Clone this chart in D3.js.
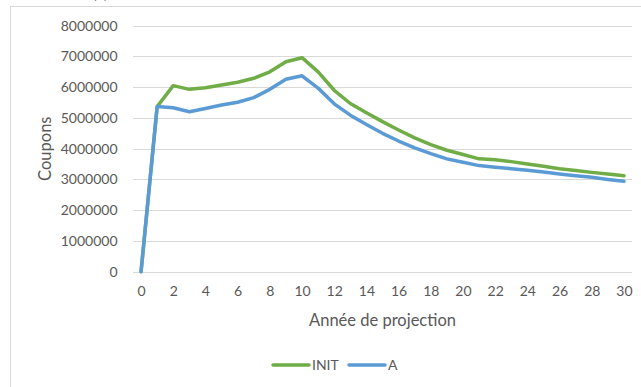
<!DOCTYPE html>
<html>
<head>
<meta charset="utf-8">
<script src="https://cdn.jsdelivr.net/npm/d3@7"></script>
<style>
  html, body { margin: 0; padding: 0; background: #fff; }
  svg { display: block; font-family: "Lato", "Open Sans", sans-serif; }
</style>
</head>
<body>
<svg id="chart" width="641" height="387"></svg>
<script>
const categories = [0,1,2,3,4,5,6,7,8,9,10,11,12,13,14,15,16,17,18,19,20,21,22,23,24,25,26,27,28,29,30];
const tickLabels = [0,2,4,6,8,10,12,14,16,18,20,22,24,26,28,30];
const yTicks = [0,1000000,2000000,3000000,4000000,5000000,6000000,7000000,8000000];
const seriesNames = ["INIT", "A"];
const initValues = [0, 5370000, 6050000, 5930000, 5980000, 6070000, 6160000, 6290000, 6500000, 6830000, 6960000,
  6500000, 5900000, 5470000, 5170000, 4880000, 4610000, 4350000, 4130000, 3950000, 3810000,
  3670000, 3640000, 3580000, 3500000, 3430000, 3350000, 3290000, 3230000, 3180000, 3120000];
const aValues = [0, 5370000, 5330000, 5200000, 5310000, 5420000, 5510000, 5660000, 5930000, 6260000, 6370000,
  5970000, 5460000, 5090000, 4790000, 4500000, 4250000, 4030000, 3840000, 3670000, 3560000,
  3450000, 3400000, 3350000, 3300000, 3240000, 3180000, 3120000, 3070000, 3000000, 2940000];
const colors = ["#70ad47", "#5b9bd5"];

const svg = d3.select("#chart");
const plot = { left: 133, right: 632, top: 25.7, bottom: 271.7 };

// chart border
svg.append("rect").attr("x", 10.5).attr("y", 6.5).attr("width", 700).attr("height", 500)
  .attr("fill", "none").attr("stroke", "#d9d9d9").attr("stroke-width", 1);

// clipped title remnant (cut off at top edge, as in the reference)
svg.append("text").attr("x", 93).attr("y", -1.5).attr("font-size", 13).attr("fill", "#595959").text("(€)");

const x = d3.scalePoint().domain(categories).range([plot.left, plot.right]).padding(0.5);
const y = d3.scaleLinear().domain([0, 8000000]).range([plot.bottom, plot.top]);

// gridlines
svg.append("g").selectAll("line").data(yTicks).join("line")
  .attr("x1", plot.left).attr("x2", plot.right)
  .attr("y1", d => Math.round(y(d)) + 0.5).attr("y2", d => Math.round(y(d)) + 0.5)
  .attr("stroke", "#d9d9d9").attr("stroke-width", 1);

// y axis labels
const yAxis = d3.axisLeft(y).tickValues(yTicks).tickFormat(d3.format("d")).tickSize(0).tickPadding(0);
const gy = svg.append("g").attr("transform", `translate(117.5,0)`).call(yAxis);
gy.select(".domain").remove();
gy.selectAll("text").attr("font-size", 14).attr("fill", "#595959").attr("font-family", "Lato, 'Open Sans', sans-serif");

// x axis labels
const xAxis = d3.axisBottom(x).tickValues(tickLabels).tickSize(0).tickPadding(0);
const gx = svg.append("g").attr("transform", `translate(0,${plot.bottom + 14})`).call(xAxis);
gx.select(".domain").remove();
gx.selectAll("text").attr("font-size", 14).attr("fill", "#595959").attr("font-family", "Lato, 'Open Sans', sans-serif");

// axis titles
svg.append("text").attr("x", (plot.left + plot.right) / 2).attr("y", 326)
  .attr("text-anchor", "middle").attr("font-size", 16.5).attr("fill", "#595959").text("Année de projection");
svg.append("text").attr("transform", `translate(51,${(plot.top + plot.bottom) / 2}) rotate(-90)`)
  .attr("text-anchor", "middle").attr("font-size", 16.5).attr("fill", "#595959").text("Coupons");

// lines
const line = d3.line().x((d, i) => x(categories[i])).y(d => y(d));
[initValues, aValues].forEach((vals, k) => {
  svg.append("path").datum(vals).attr("d", line)
    .attr("fill", "none").attr("stroke", colors[k]).attr("stroke-width", 3.5)
    .attr("stroke-linejoin", "round").attr("stroke-linecap", "round");
});

// legend
const legendY = 365;
const legendItems = [{ x1: 273, x2: 309, tx: 312 }, { x1: 349, x2: 385, tx: 388 }];
legendItems.forEach((it, k) => {
  svg.append("line").attr("x1", it.x1).attr("x2", it.x2).attr("y1", legendY).attr("y2", legendY)
    .attr("stroke", colors[k]).attr("stroke-width", 3.5).attr("stroke-linecap", "round");
  svg.append("text").attr("x", it.tx).attr("y", legendY + 5).attr("font-size", 14)
    .attr("fill", "#595959").text(seriesNames[k]);
});
</script>
</body>
</html>
